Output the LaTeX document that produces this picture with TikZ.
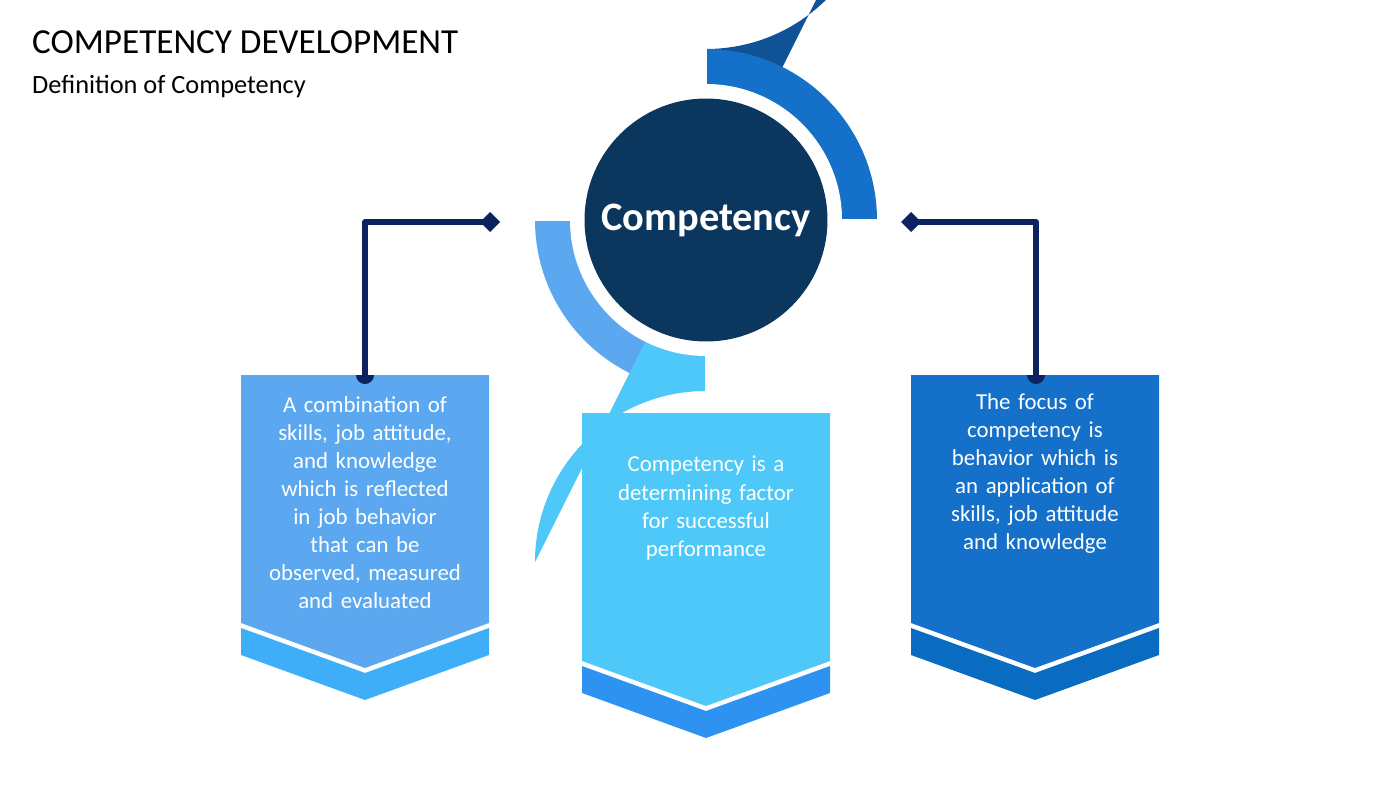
\documentclass[tikz,border=0pt]{standalone}
\usepackage{fontspec}
\setmainfont{Carlito}
\definecolor{ringA}{HTML}{5BA8F0}
\definecolor{ringB}{HTML}{0F5396}
\definecolor{ringC}{HTML}{1470C8}
\definecolor{ringD}{HTML}{4DC8F8}
\definecolor{coreblue}{HTML}{0B365E}
\definecolor{linkblue}{HTML}{0B2460}
\definecolor{bandA}{HTML}{3FAEF8}
\definecolor{bandB}{HTML}{2E93F0}
\definecolor{bandC}{HTML}{0A6CC0}
\tikzset{
  boxtext/.style={text=white, align=center, font=\fontsize{13}{16}\selectfont, text width=4cm},
  link/.style={draw=linkblue, line width=3.4pt},
}
\begin{document}
\begin{tikzpicture}[x=0.02cm,y=-0.02cm]
\useasboundingbox (0,0) rectangle (1400,788);
% Title
\node[anchor=west, font=\fontsize{20}{24}\selectfont] (title) at (26,42) {COMPETENCY DEVELOPMENT};
\node[anchor=west, font=\fontsize{15}{18}\selectfont] (subtitle) at (26,87) {Definition of Competency};

% Ring around the core
\fill[ringA] (706,220) -- (535,220) arc[start angle=180, end angle=90, radius=171] -- cycle;
\fill[ringB] (706,220) -- (706,49) arc[start angle=90, end angle=0, radius=171] -- cycle;
\fill[ringC] (706,220) -- (877,220) arc[start angle=0, end angle=-90, radius=171] -- cycle;
\fill[ringD] (706,220) -- (706,391) arc[start angle=-90, end angle=-180, radius=171] -- cycle;
\draw[white, line width=1.2pt] (530,220) -- (882,220) (706,44) -- (706,396);
\fill[white] (706,220) circle (136);
\node[circle, fill=coreblue, minimum size=4.86cm, text=white,
  font=\bfseries\fontsize{23}{28}\selectfont] (core) at (706,220) {Competency};

% Left box
\fill[ringA] (241,375) -- (489,375) -- (489,623) -- (365,668) -- (241,623) -- cycle;
\fill[bandA] (241,628) -- (365,673) -- (489,628) -- (489,655) -- (365,700) -- (241,655) -- cycle;
\node[boxtext, anchor=north] (left) at (365,390) {A combination of skills, job attitude, and knowledge which is reflected in job behavior that can be observed, measured and evaluated};

% Middle box
\fill[ringD] (582,413) -- (830,413) -- (830,661) -- (706,706) -- (582,661) -- cycle;
\fill[bandB] (582,666) -- (706,711) -- (830,666) -- (830,693) -- (706,738) -- (582,693) -- cycle;
\node[boxtext, anchor=north] (middle) at (706,450) {Competency is a determining factor for successful performance};

% Right box
\fill[ringC] (911,375) -- (1159,375) -- (1159,623) -- (1035,668) -- (911,623) -- cycle;
\fill[bandC] (911,628) -- (1035,673) -- (1159,628) -- (1159,655) -- (1035,700) -- (911,655) -- cycle;
\node[boxtext, text width=3.6cm, anchor=north] (right) at (1035,387) {The focus of competency is behavior which is an application of skills, job attitude and knowledge};

% Connectors
\coordinate (lfoot) at (365,375);
\coordinate (lend) at (490,222);
\coordinate (rfoot) at (1036,375);
\coordinate (rend) at (911,222);
\draw[link, line join=round] (lfoot) |- (lend);
\draw[link, line join=round] (rfoot) |- (rend);
\foreach \p in {lend, rend}
  \fill[linkblue] (\p) ++(-10,0) -- ++(10,-10) -- ++(10,10) -- ++(-10,10) -- cycle;
\foreach \p in {lfoot, rfoot}
  \fill[linkblue] (\p) ++(-9,0) arc[start angle=180, end angle=0, radius=9] -- cycle;
\end{tikzpicture}
\end{document}
